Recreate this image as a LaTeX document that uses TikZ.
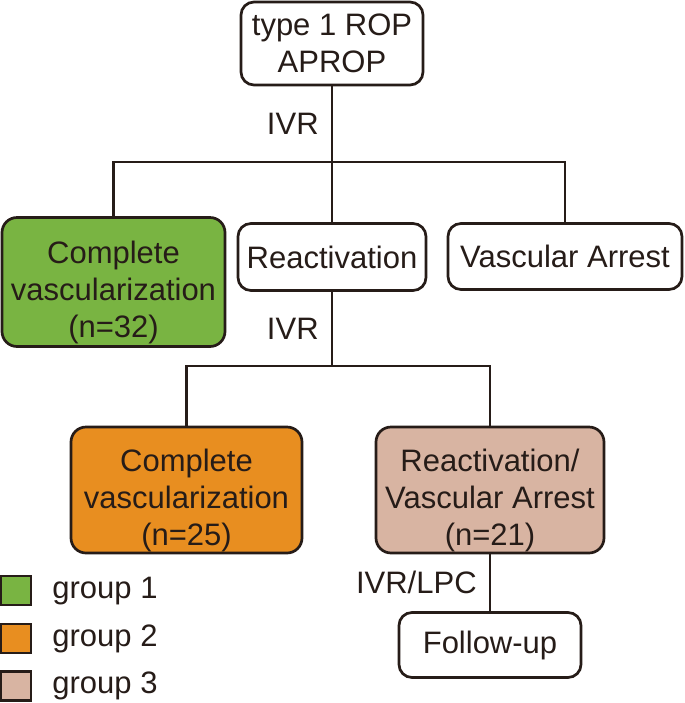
\documentclass[tikz,border=0pt]{standalone}
\usepackage{fontspec}
\setmainfont{Liberation Sans}
\definecolor{grpone}{RGB}{121,180,66}
\definecolor{grptwo}{RGB}{232,142,32}
\definecolor{grpthree}{RGB}{216,180,162}
\definecolor{ink}{RGB}{38,28,24}
\newcommand{\firstrow}{\rule{0pt}{21.5pt}}

\begin{document}
\begin{tikzpicture}[x=0.5pt,y=-0.5pt,
  every node/.style={font=\fontsize{15.5}{18.5}\selectfont,align=center,text=ink},
  box/.style={draw=ink,line width=1.35pt,rounded corners=6.5pt,inner sep=0pt,fill=white},
  group/.style={box,rounded corners=7.5pt,minimum height=63pt},
  link/.style={draw=ink,line width=1.35pt},
  lbl/.style={inner sep=6pt},
  key/.style={draw=ink,line width=1.35pt,minimum width=15pt,minimum height=14.5pt,inner sep=0pt}]
\useasboundingbox (0,0) rectangle (685,703);
\node[box,minimum width=91pt,minimum height=41.5pt] (rop) at (332,43.5) {type 1 ROP\\APROP};
\node[group,fill=grpone,minimum width=111.5pt,minimum height=64.5pt] (cv1) at (113.5,282) {\firstrow Complete\\vascularization\\(n=32)};
\node[box,minimum width=94pt,minimum height=33.5pt] (react) at (332,257) {Reactivation};
\node[box,minimum width=117pt,minimum height=33pt] (arrest) at (565,256.5) {Vascular Arrest};
\node[group,fill=grptwo,minimum width=115.5pt] (cv2) at (186.5,490) {\firstrow Complete\\vascularization\\(n=25)};
\node[group,fill=grpthree,minimum width=114pt] (mixed) at (490,490) {\firstrow Reactivation/\\Vascular Arrest\\(n=21)};
\node[box,minimum width=91pt,minimum height=32.5pt] (follow) at (490,645) {Follow-up};
\coordinate (split1) at (332,162); \coordinate (split2) at (332,366);
\draw[link] (rop) -- node[lbl,left]{IVR} (split1);
\draw[link] (cv1.north) |- (split1) -| (arrest.north); \draw[link] (split1) -- (react);
\draw[link] (react) -- node[lbl,left]{IVR} (split2);
\draw[link] (cv2.north) |- (split2) -| (mixed.north);
\draw[link] (mixed) -- node[lbl,left]{IVR/LPC} (follow);
% legend
\node[key,fill=grpone] (key1) at (16,590.5) {};
\node[key,fill=grptwo] (key2) at (16,638.5) {};
\node[key,fill=grpthree] (key3) at (16,686) {};
\node[anchor=base west,inner sep=0pt] (name1) at (52,598) {group 1};
\node[anchor=base west,inner sep=0pt] (name2) at (52,646) {group 2};
\node[anchor=base west,inner sep=0pt] (name3) at (52,693) {group 3};
\end{tikzpicture}
\end{document}
